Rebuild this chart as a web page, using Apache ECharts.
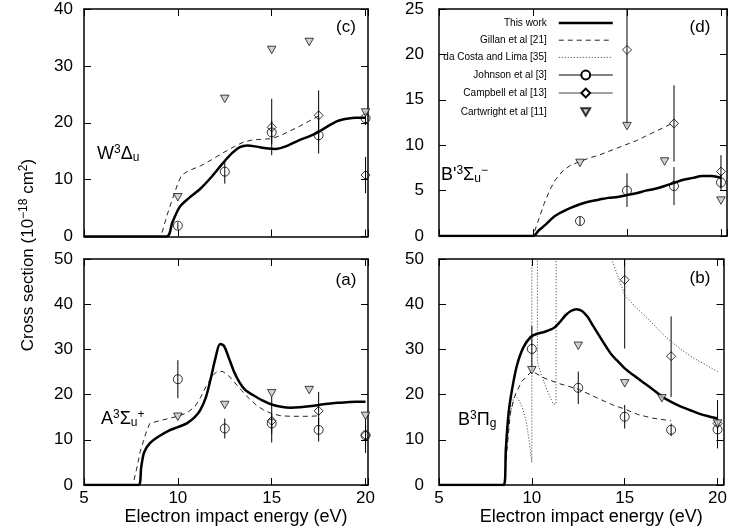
<!DOCTYPE html>
<html><head><meta charset="utf-8">
<script src="https://cdn.jsdelivr.net/npm/echarts@6/dist/echarts.min.js"></script>
<style>html,body{margin:0;padding:0;background:#fff}#c{width:730px;height:531px}</style>
</head><body><div id="c"></div>
<script>
// ---------------- DATA ----------------
const xTicks = [5, 10, 15, 20];
const legendNames = ['This work', 'Gillan et al [21]', 'da Costa and Lima [35]', 'Johnson et al [3]', 'Campbell et al [13]', 'Cartwright et al [11]'];
const johnsonE = [10, 12.5, 15, 17.5, 20];
const campbellE = [15, 17.5, 20];
const cartwrightE = [10, 12.5, 15, 17, 20];

// (c) W3Delta_u
const cThisWork = [[5,0],[9.4,0],[9.7,2.4],[10.1,5.2],[10.6,6.8],[11.2,8.4],[11.8,10.5],[12.4,12.9],[12.9,14.7],[13.3,15.7],[13.7,16.0],[14.2,15.8],[14.7,15.5],[15.2,15.4],[15.7,15.8],[16.5,17.0],[17.0,17.6],[17.5,18.4],[18.0,19.4],[18.5,20.3],[19.0,20.7],[19.5,20.9],[20,20.9]];
const cGillan = [[5,0],[9.1,0],[9.4,3.5],[9.7,6.5],[10.0,9.3],[10.2,10.8],[10.6,11.6],[11.2,12.4],[11.8,13.5],[12.4,14.7],[13.0,15.8],[13.5,16.6],[14.0,17.0],[14.5,17.1],[15.0,17.2],[15.5,17.8],[16.0,18.6],[16.5,19.4],[17.0,20.3],[17.5,21.2]];
const cJohnson = [1.9, 11.4, 18.3, 17.8, 20.8];
const cJohnsonLo = [1.3, 9.3, 16.3, 14.6, 19.6];
const cJohnsonHi = [2.5, 13.4, 20.3, 21.0, 22.0];
const cCampbell = [19.2, 21.3, 10.8];
const cCampbellLo = [14.3, 16.7, 7.6];
const cCampbellHi = [24.2, 25.7, 14.0];
const cCartwright = [6.9, 24.2, 32.8, 34.2, 21.8];

// (d) B'3Sigma_u^-
const dThisWork = [[5,0],[10,0],[10.3,0.6],[10.7,1.3],[11.1,2.1],[11.5,2.6],[12.0,3.1],[12.5,3.5],[13.0,3.8],[13.5,4.0],[14.0,4.2],[14.5,4.3],[15.0,4.5],[15.5,4.7],[16.0,5.0],[16.5,5.2],[17.0,5.5],[17.5,5.85],[18.0,6.2],[18.5,6.4],[19.0,6.6],[19.5,6.6],[20,6.4]];
const dGillan = [[5,0],[10,0],[10.3,1.8],[10.6,3.6],[10.9,5.1],[11.2,6.2],[11.6,7.2],[12.0,7.8],[12.5,8.2],[13.0,8.6],[13.5,8.9],[14.0,9.3],[14.5,9.7],[15.0,10.1],[15.5,10.5],[16.0,11.0],[16.5,11.5],[17.0,12.0],[17.5,12.5]];
const dJohnson = [null, 1.65, 5.0, 5.5, 5.9];
const dJohnsonLo = [null, 1.2, 3.2, 3.4, 5.0];
const dJohnsonHi = [null, 2.1, 6.9, 7.6, 6.8];
const dCampbell = [20.5, 12.4, 7.1];
const dCampbellLo = [12.2, 8.2, 5.3];
const dCampbellHi = [28.8, 16.6, 8.9];
const dCartwright = [null, 8.05, 12.1, 8.2, 3.9];

// (a) A3Sigma_u^+
const aThisWork = [[5,0],[7.9,0],[8.05,4],[8.2,7.2],[8.5,9.2],[9.0,10.8],[9.5,12.0],[10.0,12.8],[10.5,13.7],[10.9,15.0],[11.2,16.6],[11.5,19.5],[11.75,23.5],[12.0,28.0],[12.25,31.2],[12.45,30.8],[12.7,28.3],[13.0,25.0],[13.3,22.6],[13.6,21.0],[14.0,19.9],[14.5,18.7],[15.0,17.8],[15.5,17.3],[16.0,17.1],[16.5,17.2],[17.0,17.4],[17.5,17.7],[18.0,18.0],[18.5,18.2],[19.0,18.3],[19.5,18.4],[20,18.4]];
const aGillan = [[5,0],[7.6,0],[7.8,3.5],[8.0,7.5],[8.3,11.5],[8.5,13.6],[9.0,14.2],[9.5,14.7],[10.0,15.2],[10.5,16.0],[10.9,17.3],[11.2,19.3],[11.5,21.8],[11.8,23.9],[12.1,25.2],[12.4,25.1],[12.7,24.2],[13.0,22.8],[13.4,20.9],[13.8,19.1],[14.2,17.6],[14.6,16.5],[15.0,15.8],[15.5,15.3],[16.0,15.2],[17.0,15.2],[17.5,15.3]];
const aJohnson = [23.4, 12.5, 13.6, 12.2, 11.0];
const aJohnsonLo = [19.2, 10.3, 11.4, 9.6, 9.0];
const aJohnsonHi = [27.6, 14.7, 15.8, 14.8, 13.0];
const aCampbell = [14.2, 16.4, 11.0];
const aCampbellLo = [9.4, 12.2, 7.1];
const aCampbellHi = [19.5, 20.6, 14.9];
const aCartwright = [15.1, 17.7, 20.3, 21.0, 15.3];

// (b) B3Pi_g
const bThisWork = [[5,0],[8.5,0],[8.6,8],[8.75,16],[8.95,21.5],[9.2,26.5],[9.55,30.5],[9.95,32.8],[10.3,33.5],[10.7,33.9],[11.2,34.8],[11.5,36.0],[11.8,37.5],[12.1,38.5],[12.4,38.9],[12.7,38.5],[13.0,37.2],[13.3,35.2],[13.6,33.2],[14.0,30.6],[14.3,28.8],[14.6,27.5],[15.0,25.8],[15.5,24.2],[16.0,22.7],[16.5,21.2],[17.0,19.6],[17.5,18.4],[18.0,17.4],[18.5,16.6],[19.0,15.8],[19.5,15.2],[20,14.7]];
const bGillan = [[5,0],[8.5,0],[8.7,9.6],[8.85,16.2],[9.1,19.9],[9.45,22.9],[10.0,25.2],[10.7,23.6],[11.5,22.4],[12.5,21.2],[13.5,19.3],[14.3,17.8],[15.0,16.8],[15.7,15.6],[16.5,14.8],[17.5,14.2]];
const bDaCosta = [[5,0],[8.5,0],[8.65,8],[8.8,14.5],[9.0,19.0],[9.1,19.9],[9.3,18.8],[9.5,17.0],[9.7,14.0],[9.85,10.0],[10.0,5.0],[10.0,80],[10.3,80],[10.3,27.3],[10.5,24.5],[10.75,21.7],[11.0,19.3],[11.15,17.9],[11.3,17.9],[11.32,80],[13.5,58],[14.3,50],[15.0,42.0],[15.6,39.3],[16.2,37.0],[16.9,34.0],[17.5,31.7],[18.1,29.8],[18.7,28.1],[19.4,26.5],[20,25.1]];
const bJohnson = [30.1, 21.5, 15.1, 12.2, 12.3];
const bJohnsonLo = [25.2, 17.9, 12.5, 10.8, 10.5];
const bJohnsonHi = [35.2, 25.1, 17.7, 13.6, 14.1];
const bCampbell = [45.4, 28.5, 13.6];
const bCampbellLo = [30.2, 19.5, 8.1];
const bCampbellHi = [60.6, 37.3, 18.8];
const bCartwright = [25.4, 30.8, 22.5, 19.2, 13.6];

// ---------------- CHART ----------------
const FONT = '"Liberation Sans", Arial, Helvetica, sans-serif';
const TRI = 'path://M0,0L10,0L5,8.66Z';
const TRI_LEG = 'path://M-2.5,-2M0,0L10,0L5,8.66ZM12.5,10.66';
const chart = echarts.init(document.getElementById('c'), null, {renderer: 'canvas'});

const panels = [
  {grid:{left:84, top:9, width:284, height:227.5}, xMax:20.13, yMax:40, yInt:10, bottom:false, labMargin:11,
   thisWork:cThisWork, gillan:cGillan, daCosta:null,
   j:[cJohnson,cJohnsonLo,cJohnsonHi], cb:[cCampbell,cCampbellLo,cCampbellHi], cw:cCartwright},
  {grid:{left:439, top:9, width:288, height:227}, xMax:20.32, yMax:25, yInt:5, bottom:false, labMargin:15,
   thisWork:dThisWork, gillan:dGillan, daCosta:null,
   j:[dJohnson,dJohnsonLo,dJohnsonHi], cb:[dCampbell,dCampbellLo,dCampbellHi], cw:dCartwright},
  {grid:{left:84, top:259, width:284, height:226}, xMax:20.13, yMax:50, yInt:10, bottom:true, labMargin:11,
   thisWork:aThisWork, gillan:aGillan, daCosta:null,
   j:[aJohnson,aJohnsonLo,aJohnsonHi], cb:[aCampbell,aCampbellLo,aCampbellHi], cw:aCartwright},
  {grid:{left:439, top:259, width:288, height:226}, xMax:20.32, yMax:50, yInt:10, bottom:true, labMargin:15,
   thisWork:bThisWork, gillan:bGillan, daCosta:bDaCosta,
   j:[bJohnson,bJohnsonLo,bJohnsonHi], cb:[bCampbell,bCampbellLo,bCampbellHi], cw:bCartwright},
];

const AXLINE = {show:true, onZero:false, lineStyle:{color:'#000', width:1.5}};
const TICK = {show:true, inside:true, length:7, lineStyle:{color:'#000', width:1}};

const grid = [], xAxis = [], yAxis = [];
panels.forEach((p, i) => grid.push(Object.assign({containLabel:false}, p.grid)));
panels.forEach((p, i) => xAxis.push({
  type:'value', gridIndex:i, position:'bottom', min:5, max:p.xMax, interval:5,
  axisLine:AXLINE, axisTick:TICK, splitLine:{show:false},
  axisLabel:{show:p.bottom, fontSize:17, color:'#000', fontFamily:FONT, margin:5,
    formatter: v => xTicks.includes(v) ? String(v) : ''},
  name: p.bottom ? 'Electron impact energy (eV)' : '', nameLocation:'middle', nameGap:22,
  nameTextStyle:{fontSize:18, color:'#000', fontFamily:FONT, verticalAlign:'top', padding:[0,0,0,20]}
}));
panels.forEach((p, i) => xAxis.push({
  type:'value', gridIndex:i, position:'top', min:5, max:p.xMax, interval:5,
  axisLine:AXLINE, axisTick:TICK, splitLine:{show:false}, axisLabel:{show:false}
}));
panels.forEach((p, i) => yAxis.push({
  type:'value', gridIndex:i, position:'left', min:0, max:p.yMax, interval:p.yInt,
  axisLine:AXLINE, axisTick:TICK, splitLine:{show:false},
  axisLabel:{fontSize:17, color:'#000', fontFamily:FONT, margin:p.labMargin}
}));
panels.forEach((p, i) => yAxis.push({
  type:'value', gridIndex:i, position:'right', min:0, max:p.yMax, interval:p.yInt,
  axisLine:AXLINE, axisTick:TICK, splitLine:{show:false}, axisLabel:{show:false}
}));

const solidStyle = {color:'#000', width:2.5};
const dashStyle = {color:'#222', width:1, type:[5,4]};
const dotStyle = {color:'#333', width:1, type:[1,2]};
const circleItem = {color:'rgba(0,0,0,0)', borderColor:'#000', borderWidth:1};
const diamondItem = {color:'rgba(0,0,0,0)', borderColor:'#000', borderWidth:1};
const triItem = {color:'#c4c4c4', borderColor:'#000', borderWidth:0.9};
const noItem = {color:'rgba(0,0,0,0)', borderColor:'rgba(0,0,0,0)', borderWidth:0, opacity:0};

const series = [];
// legend proxy series (no data) - define legend icons
series.push({type:'line', name:legendNames[0], xAxisIndex:1, yAxisIndex:1, data:[], symbol:'none', lineStyle:solidStyle, itemStyle:noItem});
series.push({type:'line', name:legendNames[1], xAxisIndex:1, yAxisIndex:1, data:[], symbol:'none', lineStyle:dashStyle, itemStyle:noItem});
series.push({type:'line', name:legendNames[2], xAxisIndex:1, yAxisIndex:1, data:[], symbol:'none', lineStyle:dotStyle, itemStyle:noItem});
series.push({type:'line', name:legendNames[3], xAxisIndex:1, yAxisIndex:1, data:[], symbol:'circle', symbolSize:9, lineStyle:{color:'#000', width:1}, itemStyle:{color:'#fff', borderColor:'#000', borderWidth:1}});
series.push({type:'line', name:legendNames[4], xAxisIndex:1, yAxisIndex:1, data:[], symbol:'diamond', symbolSize:9, lineStyle:{color:'#444', width:1.2}, itemStyle:{color:'#fff', borderColor:'#000', borderWidth:1}});
series.push({type:'scatter', name:legendNames[5], xAxisIndex:1, yAxisIndex:1, data:[], symbol:TRI_LEG, symbolSize:[9,8], itemStyle:triItem});

function errRender(params, api) {
  const x = api.value(0), lo = api.value(1), hi = api.value(2);
  const p1 = api.coord([x, lo]), p2 = api.coord([x, hi]);
  const cs = params.coordSys;
  const clamp = v => Math.min(Math.max(v, cs.y), cs.y + cs.height);
  return {type:'line', shape:{x1:p1[0], y1:clamp(p1[1]), x2:p2[0], y2:clamp(p2[1])},
          style:{stroke:'#000', lineWidth:1}};
}
const pts = (xs, ys) => xs.map((x, k) => [x, ys[k]]).filter(d => d[1] != null);
const errs = (xs, lo, hi) => xs.map((x, k) => [x, lo[k], hi[k]]).filter(d => d[1] != null);

panels.forEach((p, i) => {
  const ax = {xAxisIndex:i, yAxisIndex:i, silent:true};
  series.push(Object.assign({type:'line', name:legendNames[0], data:p.thisWork, symbol:'none', smooth:0.3, lineStyle:solidStyle, z:6}, ax));
  series.push(Object.assign({type:'line', name:legendNames[1], data:p.gillan, symbol:'none', lineStyle:dashStyle, z:5}, ax));
  if (p.daCosta) series.push(Object.assign({type:'line', name:legendNames[2], data:p.daCosta, symbol:'none', lineStyle:dotStyle, z:5}, ax));
  series.push(Object.assign({type:'custom', name:legendNames[3], data:errs(johnsonE, p.j[1], p.j[2]), renderItem:errRender, encode:{x:0, y:[1,2]}, z:4}, ax));
  series.push(Object.assign({type:'custom', name:legendNames[4], data:errs(campbellE, p.cb[1], p.cb[2]), renderItem:errRender, encode:{x:0, y:[1,2]}, z:4}, ax));
  series.push(Object.assign({type:'scatter', name:legendNames[3], data:pts(johnsonE, p.j[0]), symbol:'circle', symbolSize:9, itemStyle:circleItem, z:7}, ax));
  series.push(Object.assign({type:'scatter', name:legendNames[4], data:pts(campbellE, p.cb[0]), symbol:'diamond', symbolSize:9, itemStyle:diamondItem, z:7}, ax));
  series.push(Object.assign({type:'scatter', name:legendNames[5], data:pts(cartwrightE, p.cw), symbol:TRI, symbolSize:[8.5,7.5], itemStyle:triItem, z:7}, ax));
});

const RICH = (n) => ({
  n:{fontSize:n, fontFamily:FONT, color:'#000'},
  sup:{fontSize:Math.round(n*0.68), fontFamily:FONT, color:'#000', padding:[0,0,Math.round(n*0.5),0]},
  sub:{fontSize:Math.round(n*0.68), fontFamily:FONT, color:'#000', padding:[Math.round(n*0.45),0,0,0]}
});
function gtext(x, y, text, size, align, rot) {
  return {type:'text', x:x, y:y, rotation:rot || 0, silent:true, z:100,
    style:{text:text, rich:RICH(size), fontSize:size, fontFamily:FONT, fill:'#000', align:align || 'left', verticalAlign:'middle'}};
}

const legendLineWidths = [2.5, 1, 1, 1, 1.2, 1];
const option = {
  animation:false,
  backgroundColor:'#fff',
  textStyle:{fontFamily:FONT},
  grid, xAxis, yAxis, series,
  legend:{
    data:legendNames.map((n, k) => k < 3
      ? {name:n, itemStyle:noItem, lineStyle:{width:legendLineWidths[k]}}
      : {name:n, lineStyle:{width:legendLineWidths[k]}}),
    orient:'vertical', right:116, top:18, padding:0, align:'right',
    itemWidth:54, itemHeight:11, itemGap:7.2, selectedMode:false,
    textStyle:{fontSize:10, color:'#000', fontFamily:FONT, padding:[0,7,0,0]}
  },
  graphic:[
    gtext(28, 255, '{n|Cross section (10}{sup|−18}{n| cm}{sup|2}{n|)}', 17, 'center', Math.PI/2),
    gtext(346, 27, '{n|(c)}', 17, 'center'),
    gtext(700, 27, '{n|(d)}', 17, 'center'),
    gtext(346, 280, '{n|(a)}', 17, 'center'),
    gtext(700, 278, '{n|(b)}', 17, 'center'),
    gtext(97, 154, '{n|W}{sup|3}{n|Δ}{sub|u}', 18),
    gtext(101, 419, '{n|A}{sup|3}{n|Σ}{sub|u}{sup|+}', 18),
    gtext(441, 175, "{n|B'}{sup|3}{n|Σ}{sub|u}{sup|−}", 18),
    gtext(458, 420, '{n|B}{sup|3}{n|Π}{sub|g}', 18)
  ]
};
chart.setOption(option);
</script>
</body></html>
